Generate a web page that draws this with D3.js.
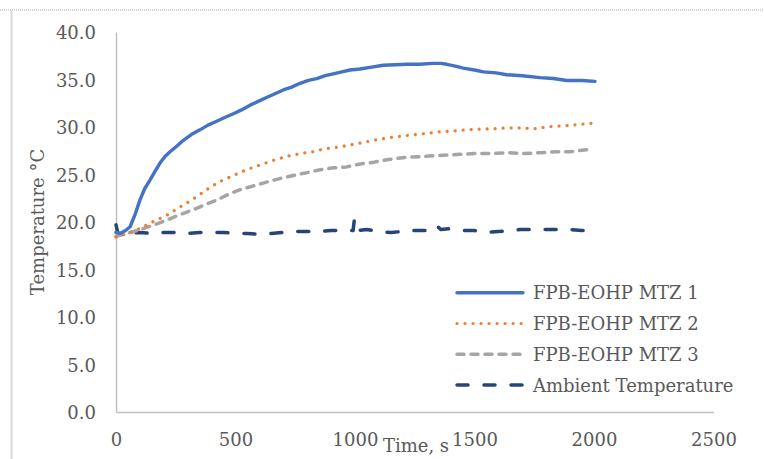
<!DOCTYPE html>
<html><head><meta charset="utf-8">
<script src="https://d3js.org/d3.v7.min.js"></script>
<style>body{margin:0;background:#fff;}svg{display:block;}</style>
</head><body>
<script>
// ---- data ----
const xTicks = [0, 500, 1000, 1500, 2000, 2500];
const yTicks = [0, 5, 10, 15, 20, 25, 30, 35, 40];
const seriesNames = ["FPB-EOHP MTZ 1", "FPB-EOHP MTZ 2", "FPB-EOHP MTZ 3", "Ambient Temperature"];

const mtz1Time = [0, 17, 40, 59, 80, 100, 120, 142, 165, 184, 205, 226, 255, 282, 315, 351, 385, 421, 455, 491, 525, 561, 595, 630, 665, 700, 735, 770, 805, 840, 875, 909, 945, 979, 1021, 1070, 1118, 1170, 1216, 1270, 1328, 1360, 1384, 1420, 1453, 1500, 1537, 1590, 1635, 1700, 1774, 1830, 1886, 1950, 2004];
const mtz1Temp = [18.9, 18.8, 19.1, 19.5, 20.8, 22.3, 23.5, 24.4, 25.4, 26.2, 26.9, 27.4, 28.0, 28.6, 29.2, 29.7, 30.2, 30.6, 31.0, 31.4, 31.8, 32.3, 32.7, 33.1, 33.5, 33.9, 34.2, 34.6, 34.9, 35.1, 35.4, 35.6, 35.8, 36.0, 36.1, 36.3, 36.5, 36.55, 36.6, 36.6, 36.7, 36.7, 36.6, 36.4, 36.2, 36.0, 35.8, 35.7, 35.5, 35.4, 35.2, 35.1, 34.9, 34.9, 34.8];

const mtz2Time = [0, 60, 114, 160, 212, 250, 296, 340, 379, 430, 491, 545, 603, 660, 714, 770, 826, 870, 937, 1021, 1077, 1150, 1216, 1290, 1356, 1420, 1495, 1560, 1635, 1700, 1746, 1802, 1860, 1914, 1997];
const mtz2Temp = [18.4, 18.9, 19.5, 20.1, 20.7, 21.3, 22.0, 22.7, 23.4, 24.2, 24.9, 25.5, 26.0, 26.5, 26.9, 27.2, 27.4, 27.7, 27.9, 28.3, 28.6, 28.9, 29.1, 29.3, 29.5, 29.6, 29.75, 29.8, 29.9, 29.9, 29.8, 30.0, 30.1, 30.2, 30.4];

const mtz3Time = [0, 17, 60, 114, 160, 212, 270, 324, 370, 421, 470, 519, 575, 630, 690, 742, 800, 854, 910, 965, 1021, 1080, 1146, 1210, 1286, 1350, 1425, 1500, 1565, 1640, 1704, 1780, 1844, 1900, 1969];
const mtz3Temp = [18.5, 18.6, 18.9, 19.3, 19.7, 20.2, 20.8, 21.3, 21.8, 22.3, 22.9, 23.4, 23.8, 24.2, 24.6, 24.9, 25.2, 25.5, 25.7, 25.8, 26.1, 26.3, 26.6, 26.8, 26.9, 27.0, 27.1, 27.2, 27.2, 27.3, 27.2, 27.3, 27.4, 27.4, 27.6];

const ambTime = [0, 8, 50, 100, 150, 200, 250, 300, 350, 400, 450, 500, 550, 600, 650, 700, 750, 800, 850, 900, 950, 992, 997, 1003, 1050, 1100, 1150, 1200, 1250, 1300, 1330, 1342, 1360, 1400, 1450, 1500, 1551, 1600, 1650, 1690, 1750, 1800, 1850, 1900, 1950, 1996];
const ambTemp = [19.7, 18.8, 18.8, 18.9, 18.8, 18.9, 18.9, 18.8, 18.9, 18.9, 18.9, 18.8, 18.8, 18.7, 18.8, 18.9, 19.0, 19.0, 19.0, 19.1, 19.1, 19.1, 20.2, 19.1, 19.2, 19.0, 18.9, 19.0, 19.1, 19.1, 19.2, 19.6, 19.2, 19.3, 19.1, 19.1, 18.9, 19.0, 19.1, 19.2, 19.2, 19.2, 19.2, 19.2, 19.1, 19.1];

// ---- chart ----
const W = 764, H = 459;
const svg = d3.select("body").append("svg").attr("width", W).attr("height", H);
const font = "DejaVu Serif";
const textColor = "#595959";

// outer frame pieces
svg.append("line").attr("x1", 0).attr("x2", W).attr("y1", 10).attr("y2", 10)
  .attr("stroke", "#a6a6a6").attr("stroke-width", 1).attr("stroke-dasharray", "1 1");
svg.append("line").attr("x1", 11.5).attr("x2", 11.5).attr("y1", 10).attr("y2", H)
  .attr("stroke", "#d9d9d9").attr("stroke-width", 2);

const x = d3.scaleLinear().domain([0, 2500]).range([116, 713.5]);
const y = d3.scaleLinear().domain([0, 40]).range([412, 32]);

// y axis
const yAxis = svg.append("g").attr("transform", "translate(116,0)")
  .call(d3.axisLeft(y).tickValues(yTicks).tickSize(0).tickPadding(20).tickFormat(d3.format(".1f")));
yAxis.select(".domain").attr("stroke", "#bfbfbf").attr("stroke-width", 1.5);
yAxis.selectAll("text").attr("font-family", font).attr("font-size", 18).attr("fill", textColor).attr("dy", "0.38em");

// x axis
const xAxis = svg.append("g").attr("transform", "translate(0,412)")
  .call(d3.axisBottom(x).tickValues(xTicks).tickSize(0).tickPadding(21).tickFormat(d3.format("d")));
xAxis.select(".domain").attr("stroke", "#bfbfbf").attr("stroke-width", 1.5);
xAxis.selectAll("text").attr("font-family", font).attr("font-size", 18).attr("fill", textColor);

// axis titles
svg.append("text").attr("x", 416).attr("y", 452).attr("text-anchor", "middle")
  .attr("font-family", font).attr("font-size", 18).attr("fill", textColor).text("Time, s");
svg.append("text").attr("transform", "translate(44,222) rotate(-90)").attr("text-anchor", "middle")
  .attr("font-family", font).attr("font-size", 18).attr("fill", textColor).text("Temperature °C");

const line = d3.line().x(d => x(d[0])).y(d => y(d[1]));
const styles = [
  {color: "#4472C4", width: 3.4, dash: null, cap: "round"},
  {color: "#ED7D31", width: 3.2, dash: "0.01 8", cap: "round"},
  {color: "#A5A5A5", width: 3.5, dash: "7 7", cap: "round"},
  {color: "#264478", width: 3.5, dash: "11 16", cap: "round"}
];
const data = [
  d3.zip(mtz1Time, mtz1Temp),
  d3.zip(mtz2Time, mtz2Temp),
  d3.zip(mtz3Time, mtz3Temp),
  d3.zip(ambTime, ambTemp)
];
// draw order: ambient first, then others
[3, 2, 1, 0].forEach(i => {
  svg.append("path").datum(data[i]).attr("d", line).attr("fill", "none")
    .attr("stroke", styles[i].color).attr("stroke-width", styles[i].width)
    .attr("stroke-linecap", styles[i].cap).attr("stroke-linejoin", "round")
    .attr("stroke-dasharray", styles[i].dash);
});

// legend
const lg = svg.append("g");
seriesNames.forEach((name, i) => {
  const yy = 292.7 + i * 30.8;
  lg.append("line").attr("x1", 457).attr("x2", 523).attr("y1", yy).attr("y2", yy)
    .attr("stroke", styles[i].color).attr("stroke-width", styles[i].width)
    .attr("stroke-linecap", styles[i].cap).attr("stroke-dasharray", styles[i].dash);
  lg.append("text").attr("x", 533).attr("y", yy + 6.5).attr("font-family", font)
    .attr("font-size", 18).attr("fill", textColor).text(name);
});
</script>
</body></html>
